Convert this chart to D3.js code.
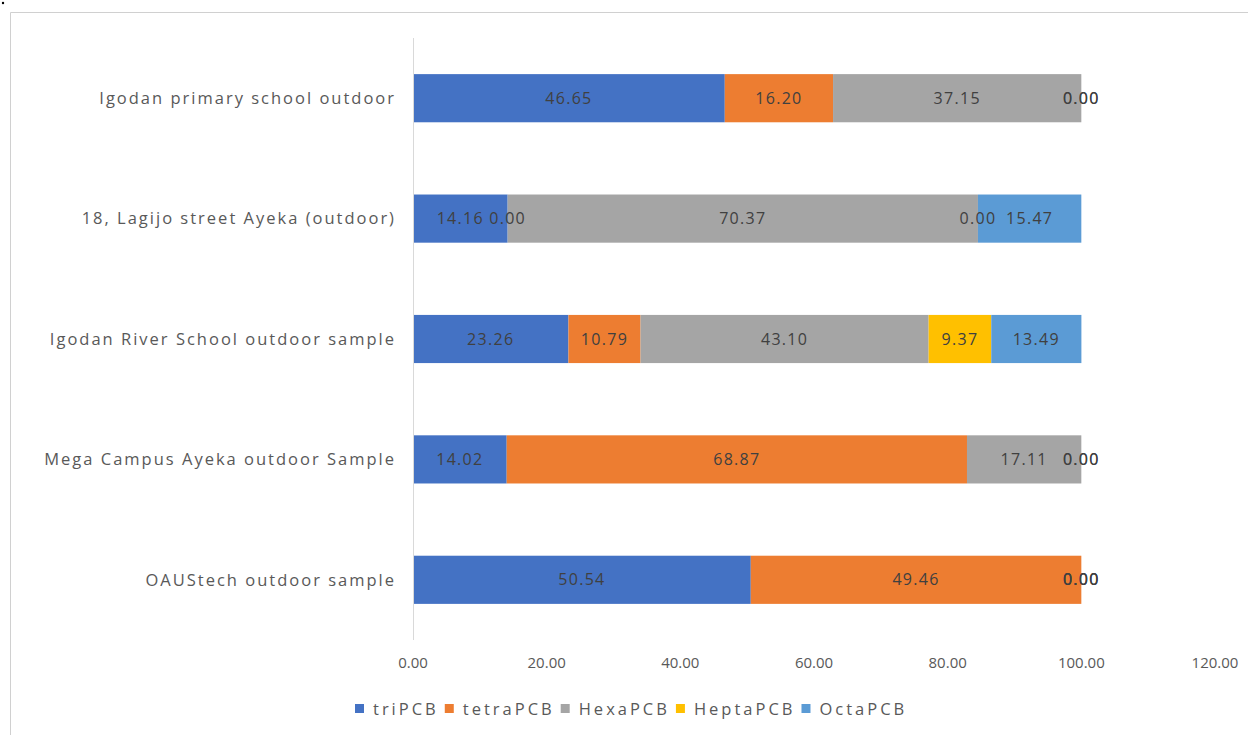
<!DOCTYPE html>
<html>
<head>
<meta charset="utf-8">
<script src="https://cdn.jsdelivr.net/npm/d3@7"></script>
<style>
  body { margin: 0; background: #fff; }
  svg { display: block; }
</style>
</head>
<body>
<div id="chart"></div>
<script>
// categories, top to bottom as drawn
var categories = [
    "Igodan primary school outdoor",
    "18, Lagijo street Ayeka (outdoor)",
    "Igodan River School outdoor sample",
    "Mega Campus Ayeka outdoor Sample",
    "OAUStech outdoor sample"
];
var seriesNames = ["triPCB", "tetraPCB", "HexaPCB", "HeptaPCB", "OctaPCB"];
var seriesColors = ["#4472C4", "#ED7D31", "#A5A5A5", "#FFC000", "#5B9BD5"];

var triPCB   = [46.65, 14.16, 23.26, 14.02, 50.54];
var tetraPCB = [16.20, 0.00, 10.79, 68.87, 49.46];
var hexaPCB  = [37.15, 70.37, 43.10, 17.11, 0.00];
var heptaPCB = [0.00, 0.00, 9.37, 0.00, 0.00];
var octaPCB  = [0.00, 15.47, 13.49, 0.00, 0.00];

var xTicks = [0, 20, 40, 60, 80, 100, 120];

var width = 1248, height = 735;
var font = "'Open Sans', sans-serif";

var svg = d3.select("#chart").append("svg")
        .attr("width", width)
        .attr("height", height);

// chart frame (only top & left visible in the picture)
svg.append("line").attr("x1", 10.5).attr("x2", width).attr("y1", 12.5).attr("y2", 12.5)
        .attr("stroke", "#d0d0d0");
svg.append("line").attr("x1", 10.5).attr("x2", 10.5).attr("y1", 12.5).attr("y2", height)
        .attr("stroke", "#d0d0d0");
svg.append("circle").attr("cx", 3).attr("cy", 3).attr("r", 1.2).attr("fill", "#000");

var x = d3.scaleLinear().domain([0, 120]).range([413, 1215]);
var y = d3.scaleBand().domain(categories).range([38, 640]).paddingInner(0.6).paddingOuter(0.3);

// build the rows for the stack
var table = categories.map(function (c, i) {
    return {
        cat: c,
        triPCB: triPCB[i], tetraPCB: tetraPCB[i], HexaPCB: hexaPCB[i],
        HeptaPCB: heptaPCB[i], OctaPCB: octaPCB[i]
    };
});
var stacked = d3.stack().keys(seriesNames)(table);

var layer = svg.selectAll(".layer")
        .data(stacked)
        .enter().append("g")
        .attr("class", "layer")
        .attr("fill", function (d, i) { return seriesColors[i]; });

layer.selectAll("rect")
        .data(function (d) { return d; })
        .enter().append("rect")
        .attr("x", function (d) { return x(d[0]); })
        .attr("width", function (d) { return x(d[1]) - x(d[0]); })
        .attr("y", function (d) { return y(d.data.cat); })
        .attr("height", y.bandwidth());

// value labels, centred in every segment (zeros too, like Excel)
stacked.forEach(function (s) {
    svg.append("g").selectAll("text")
            .data(s)
            .enter().append("text")
            .attr("x", function (d) { return x((d[0] + d[1]) / 2); })
            .attr("y", function (d) { return y(d.data.cat) + y.bandwidth() / 2; })
            .attr("dy", "0.35em")
            .attr("text-anchor", "middle")
            .attr("font-family", font)
            .attr("font-size", 16)
            .attr("letter-spacing", "1.3px")
            .attr("fill", "#404040")
            .text(function (d) { return (d[1] - d[0]).toFixed(2); });
});

// vertical axis line
svg.append("line")
        .attr("x1", x(0) + 0.5).attr("x2", x(0) + 0.5)
        .attr("y1", 38).attr("y2", 640)
        .attr("stroke", "#d9d9d9");

// category labels
svg.append("g").selectAll("text")
        .data(categories)
        .enter().append("text")
        .attr("x", 396)
        .attr("y", function (d) { return y(d) + y.bandwidth() / 2; })
        .attr("dy", "0.35em")
        .attr("text-anchor", "end")
        .attr("font-family", font)
        .attr("font-size", 16.5)
        .attr("letter-spacing", "2px")
        .attr("fill", "#595959")
        .text(function (d) { return d; });

// x tick labels
svg.append("g").selectAll("text")
        .data(xTicks)
        .enter().append("text")
        .attr("x", function (d) { return x(d); })
        .attr("y", 663)
        .attr("dy", "0.35em")
        .attr("text-anchor", "middle")
        .attr("font-family", font)
        .attr("font-size", 15)
        .attr("fill", "#595959")
        .text(function (d) { return d.toFixed(2); });

// legend
var legend = svg.append("g").attr("transform", "translate(355,709)");
var lx = 0;
seriesNames.forEach(function (n, i) {
    var g = legend.append("g").attr("transform", "translate(" + lx + ",0)");
    g.append("rect").attr("x", 0).attr("y", -5).attr("width", 9).attr("height", 9)
            .attr("fill", seriesColors[i]);
    var t = g.append("text").attr("x", 18).attr("y", 0).attr("dy", "0.35em")
            .attr("font-family", font).attr("font-size", 16.5).attr("letter-spacing", "3px")
            .attr("fill", "#595959")
            .text(n);
    lx += 18 + t.node().getComputedTextLength() + 6;
});
</script>
</body>
</html>
